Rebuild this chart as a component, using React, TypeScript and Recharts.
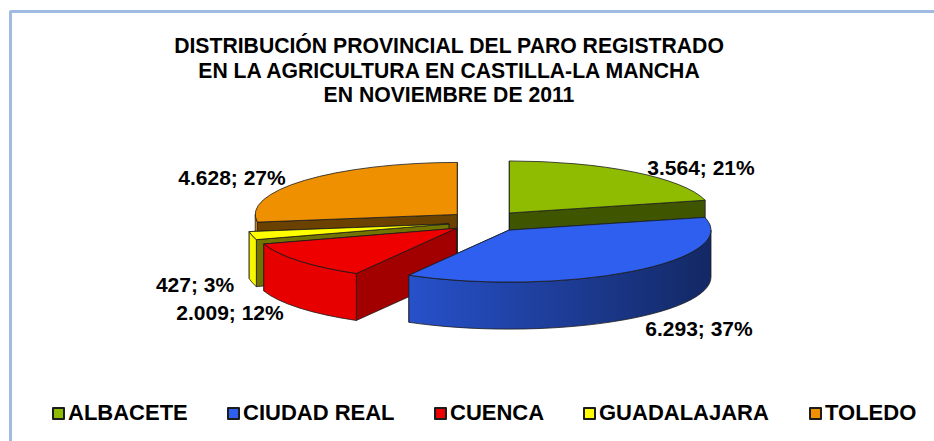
import React from "react";
import { PieChart, Pie, Legend } from "recharts";

const WIDTH = 934;
const HEIGHT = 441;

// Provinces in legend order
const provinces = ["ALBACETE", "CIUDAD REAL", "CUENCA", "GUADALAJARA", "TOLEDO"];
const paro = [3564, 6293, 2009, 427, 4628];
const colors = ["#8fbc00", "#2e5fee", "#ee0000", "#ffff00", "#ee9000"];
const titleLines = [
  "DISTRIBUCIÓN PROVINCIAL DEL PARO REGISTRADO",
  "EN LA AGRICULTURA EN CASTILLA-LA MANCHA",
  "EN NOVIEMBRE DE 2011",
];

// Back to front, so the nearer slices paint over the others. Going counter
// clockwise from Albacete gives this order without breaking the pie.
const paintOrder = [0, 4, 3, 2, 1];

const pieData = paintOrder.map((i) => ({
  name: provinces[i],
  value: paro[i],
  fill: colors[i],
}));

const total = paro.reduce((a, b) => a + b, 0);
const startAngle = 90 - (paro[0] / total) * 360;

const TILT = 0.2575;
const DEPTH = 47;
const EXPLODE_X = 38;
const EXPLODE_Y = 10.8;

// label centres, relative to the pie centre
const labelOffset: Record<string, [number, number]> = {
  ALBACETE: [215, -54],
  "CIUDAD REAL": [213, 107],
  CUENCA: [-256, 91],
  GUADALAJARA: [-291, 63],
  TOLEDO: [-254, -44],
};

// left edge of each legend entry
const legendLeft = [52, 227, 434, 583, 809];

const rad = (a: number) => (a * Math.PI) / 180;

const shade = (hex: string, k: number) => {
  const n = parseInt(hex.slice(1), 16);
  const c = [(n >> 16) & 255, (n >> 8) & 255, n & 255].map((v) => Math.round(v * k));
  return `rgb(${c[0]},${c[1]},${c[2]})`;
};

// the cut faces pointing down-right catch more light than the others
const faceLight = (a: number) => {
  const m = ((a % 360) + 360) % 360;
  return m > 200 && m < 300 ? 0.68 : 0.45;
};

// Draws one Recharts sector as a tilted, extruded and pulled out slice
const Slice3D = (props: any) => {
  const { cx, cy, outerRadius, startAngle: a0, endAngle: a1, fill, index } = props;
  const rx = outerRadius;
  const ry = outerRadius * TILT;
  const mid = (a0 + a1) / 2;
  const ax = cx + EXPLODE_X * Math.cos(rad(mid));
  const ay = cy - EXPLODE_Y * Math.sin(rad(mid));
  const pt = (a: number) => [ax + rx * Math.cos(rad(a)), ay - ry * Math.sin(rad(a))];
  const [x0, y0] = pt(a0);
  const [x1, y1] = pt(a1);
  const large = a1 - a0 > 180 ? 1 : 0;
  const top = `M${ax},${ay} L${x0},${y0} A${rx},${ry} 0 ${large} 0 ${x1},${y1} Z`;

  const radial = (x: number, y: number) =>
    `M${ax},${ay} L${x},${y} L${x},${y + DEPTH} L${ax},${ay + DEPTH} Z`;

  // the outer wall only shows on the front half of the ellipse
  const wallFrom = Math.max(a0, 180);
  const wallTo = Math.min(a1, 360);
  let wall = "";
  if (wallTo > wallFrom) {
    const [wx0, wy0] = pt(wallFrom);
    const [wx1, wy1] = pt(wallTo);
    wall =
      `M${wx0},${wy0} A${rx},${ry} 0 0 0 ${wx1},${wy1} L${wx1},${wy1 + DEPTH} ` +
      `A${rx},${ry} 0 0 1 ${wx0},${wy0 + DEPTH} Z`;
  }
  const gradId = `wall-${index}`;
  const edge = { stroke: "#1c1c1c", strokeWidth: 0.8, strokeLinejoin: "round" as const };

  return (
    <g>
      <defs>
        {/* one light ramp across the whole pie, bright left, dark right */}
        <linearGradient
          id={gradId}
          gradientUnits="userSpaceOnUse"
          x1={cx - rx - EXPLODE_X}
          y1="0"
          x2={cx + rx + EXPLODE_X}
          y2="0"
        >
          <stop offset="0%" stopColor={shade(fill, 0.97)} />
          <stop offset="25%" stopColor={shade(fill, 0.97)} />
          <stop offset="34%" stopColor={shade(fill, 0.85)} />
          <stop offset="100%" stopColor={shade(fill, 0.4)} />
        </linearGradient>
      </defs>
      <path d={radial(x0, y0)} fill={shade(fill, faceLight(a0))} {...edge} />
      <path d={radial(x1, y1)} fill={shade(fill, faceLight(a1))} {...edge} />
      {wall && <path d={wall} fill={`url(#${gradId})`} {...edge} />}
      <path d={top} fill={fill} {...edge} />
    </g>
  );
};

const formatValue = (v: number) => String(v).replace(/\B(?=(\d{3})+$)/g, ".");

const renderLabel = (props: any) => {
  const { cx, cy, name, value, percent } = props;
  const [dx, dy] = labelOffset[name];
  return (
    <text
      x={cx + dx}
      y={cy + dy}
      textAnchor="middle"
      dominantBaseline="central"
      fontFamily="Liberation Sans"
      fontWeight="bold"
      fontSize={21}
      fill="#000"
    >
      {`${formatValue(value)}; ${Math.round(percent * 100)}%`}
    </text>
  );
};

const renderLegend = () => (
  <div style={{ position: "relative", width: WIDTH, height: 24 }}>
    {provinces.map((name, i) => (
      <div
        key={name}
        style={{
          position: "absolute",
          left: legendLeft[i],
          top: 0,
          height: 24,
          display: "flex",
          alignItems: "center",
          fontFamily: "Liberation Sans",
          fontWeight: "bold",
          fontSize: 22,
          color: "#000",
          whiteSpace: "nowrap",
        }}
      >
        <span
          style={{
            width: 9,
            height: 9,
            marginRight: 3,
            background: colors[i],
            border: "2px solid #1c1c1c",
            borderRadius: 1,
          }}
        />
        {name}
      </div>
    ))}
  </div>
);

export default function App() {
  return (
    <div style={{ position: "absolute", left: 0, top: 0, width: WIDTH, height: HEIGHT, overflow: "hidden", background: "#fff" }}>
      <div
        style={{
          position: "absolute",
          left: 9,
          top: 10,
          width: WIDTH,
          height: HEIGHT,
          border: "3px solid #9fbbe2",
          borderRadius: 2,
        }}
      />
      <div
        style={{
          position: "absolute",
          left: 0,
          top: 34,
          width: 898,
          textAlign: "center",
          fontFamily: "Liberation Sans",
          fontWeight: "bold",
          fontSize: 21.2,
          lineHeight: "24.5px",
          color: "#000",
        }}
      >
        {titleLines.map((line) => (
          <div key={line}>{line}</div>
        ))}
      </div>
      <div style={{ position: "absolute", left: 0, top: 0 }}>
        <PieChart width={WIDTH} height={HEIGHT} margin={{ top: 0, right: 0, bottom: 0, left: 0 }}>
          <Pie
            data={pieData}
            dataKey="value"
            nameKey="name"
            cx={486}
            cy={221.5}
            innerRadius={0}
            outerRadius={202}
            startAngle={startAngle}
            endAngle={startAngle + 360}
            stroke="none"
            shape={Slice3D}
            label={renderLabel}
            labelLine={false}
            isAnimationActive={false}
          />
          <Legend
            content={renderLegend}
            wrapperStyle={{ position: "absolute", left: 0, top: 401, width: WIDTH, margin: 0 }}
          />
        </PieChart>
      </div>
    </div>
  );
}
